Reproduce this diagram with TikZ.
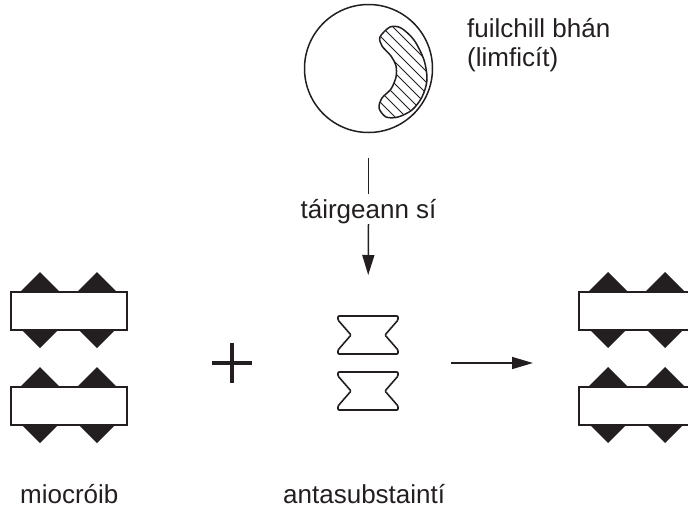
\documentclass[tikz,border=0pt]{standalone}
\usepackage{fontspec}
\setmainfont{Liberation Sans}
\usetikzlibrary{arrows.meta}
\definecolor{ink}{RGB}{35,31,32}
\newcommand{\drawmicrobe}[3]{%
  \foreach \dx in {30,87}{\foreach \dy in {0,38}{
    \fill[ink] ({#2+\dx},{#3+\dy-19}) -- ++(19,19) -- ++(-19,19) -- ++(-19,-19) -- cycle;}}
  \node[bar, minimum width=116pt, minimum height=38pt, anchor=north west, inner sep=0pt] (#1) at (#2,#3) {};
}
\newcommand{\drawantibody}[3]{%
  \draw[bar, line width=1.6pt, rounded corners=1pt] (#2,#3) -- ++(60,0) -- ++(0,4) -- ++(-13,15) -- ++(13,15) -- ++(0,4) -- ++(-60,0) -- ++(0,-4) -- ++(13,-15) -- ++(-13,-15) -- cycle;
  \coordinate (#1) at ({#2+30},#3);
}
\begin{document}
\begin{tikzpicture}[x=1pt,y=-1pt,
  lbl/.style={font=\fontsize{26}{30}\selectfont, text=ink, inner sep=0pt},
  bar/.style={draw=ink, line width=1.8pt, fill=white},
  conn/.style={draw=ink, line width=1.5pt},
]
\useasboundingbox (0,0) rectangle (688,517);
% lymphocyte
\node[draw=ink, circle, line width=1.5pt, minimum size=128pt, inner sep=0pt] (cell) at (368.5,68.5) {};
\begin{scope}
  \path[clip] plot[smooth cycle] coordinates {(390,27) (401,28) (414,40) (424,60) (427,80) (422,97) (412,110) (398,117) (386,117) (379,108) (382,98) (391,89) (396,77) (396,66) (391,56) (382,46) (380,37)};
  \foreach \c in {-410,-399,...,-250}
    \draw[ink, line width=0.8pt] (370,{370+\c}) -- (435,{435+\c});
\end{scope}
\draw[ink, line width=1.5pt] plot[smooth cycle] coordinates {(390,27) (401,28) (414,40) (424,60) (427,80) (422,97) (412,110) (398,117) (386,117) (379,108) (382,98) (391,89) (396,77) (396,66) (391,56) (382,46) (380,37)};
\node[lbl, anchor=base west] (t1) at (467,37) {fuilchill bhán};
\node[lbl, anchor=base west] (t2) at (467,66) {(limficít)};
% microbes
\drawmicrobe{m1}{10}{291}
\drawmicrobe{m2}{10}{386}
\drawmicrobe{m3}{578}{291}
\drawmicrobe{m4}{578}{386}
% antibodies
\drawantibody{ab1}{338}{316}
\drawantibody{ab2}{338}{372}
% plus
\draw[ink, line width=4pt] (212,363) -- (252,363) (232,343) -- (232,383);
% production arrow
\node[lbl, anchor=base, text height=19pt, text depth=1pt, inner ysep=5pt] (cue) at (368.5,218) {táirgeann sí};
\draw[conn, shorten <=25pt] (cell.south) -- (cue.north);
\draw[conn, -{Triangle[length=20pt,width=12pt]}, shorten >=41pt] (cue.south) -- (ab1);
% reaction arrow
\coordinate (arrS) at (451,363);
\coordinate (arrE) at (533,363);
\draw[conn, -{Triangle[length=21pt,width=12pt]}] (arrS) -- (arrE);
% labels
\node[lbl, anchor=base west] (t3) at (20,503) {miocróib};
\node[lbl, anchor=base west] (t4) at (283,503) {antasubstaintí};
\end{tikzpicture}
\end{document}
